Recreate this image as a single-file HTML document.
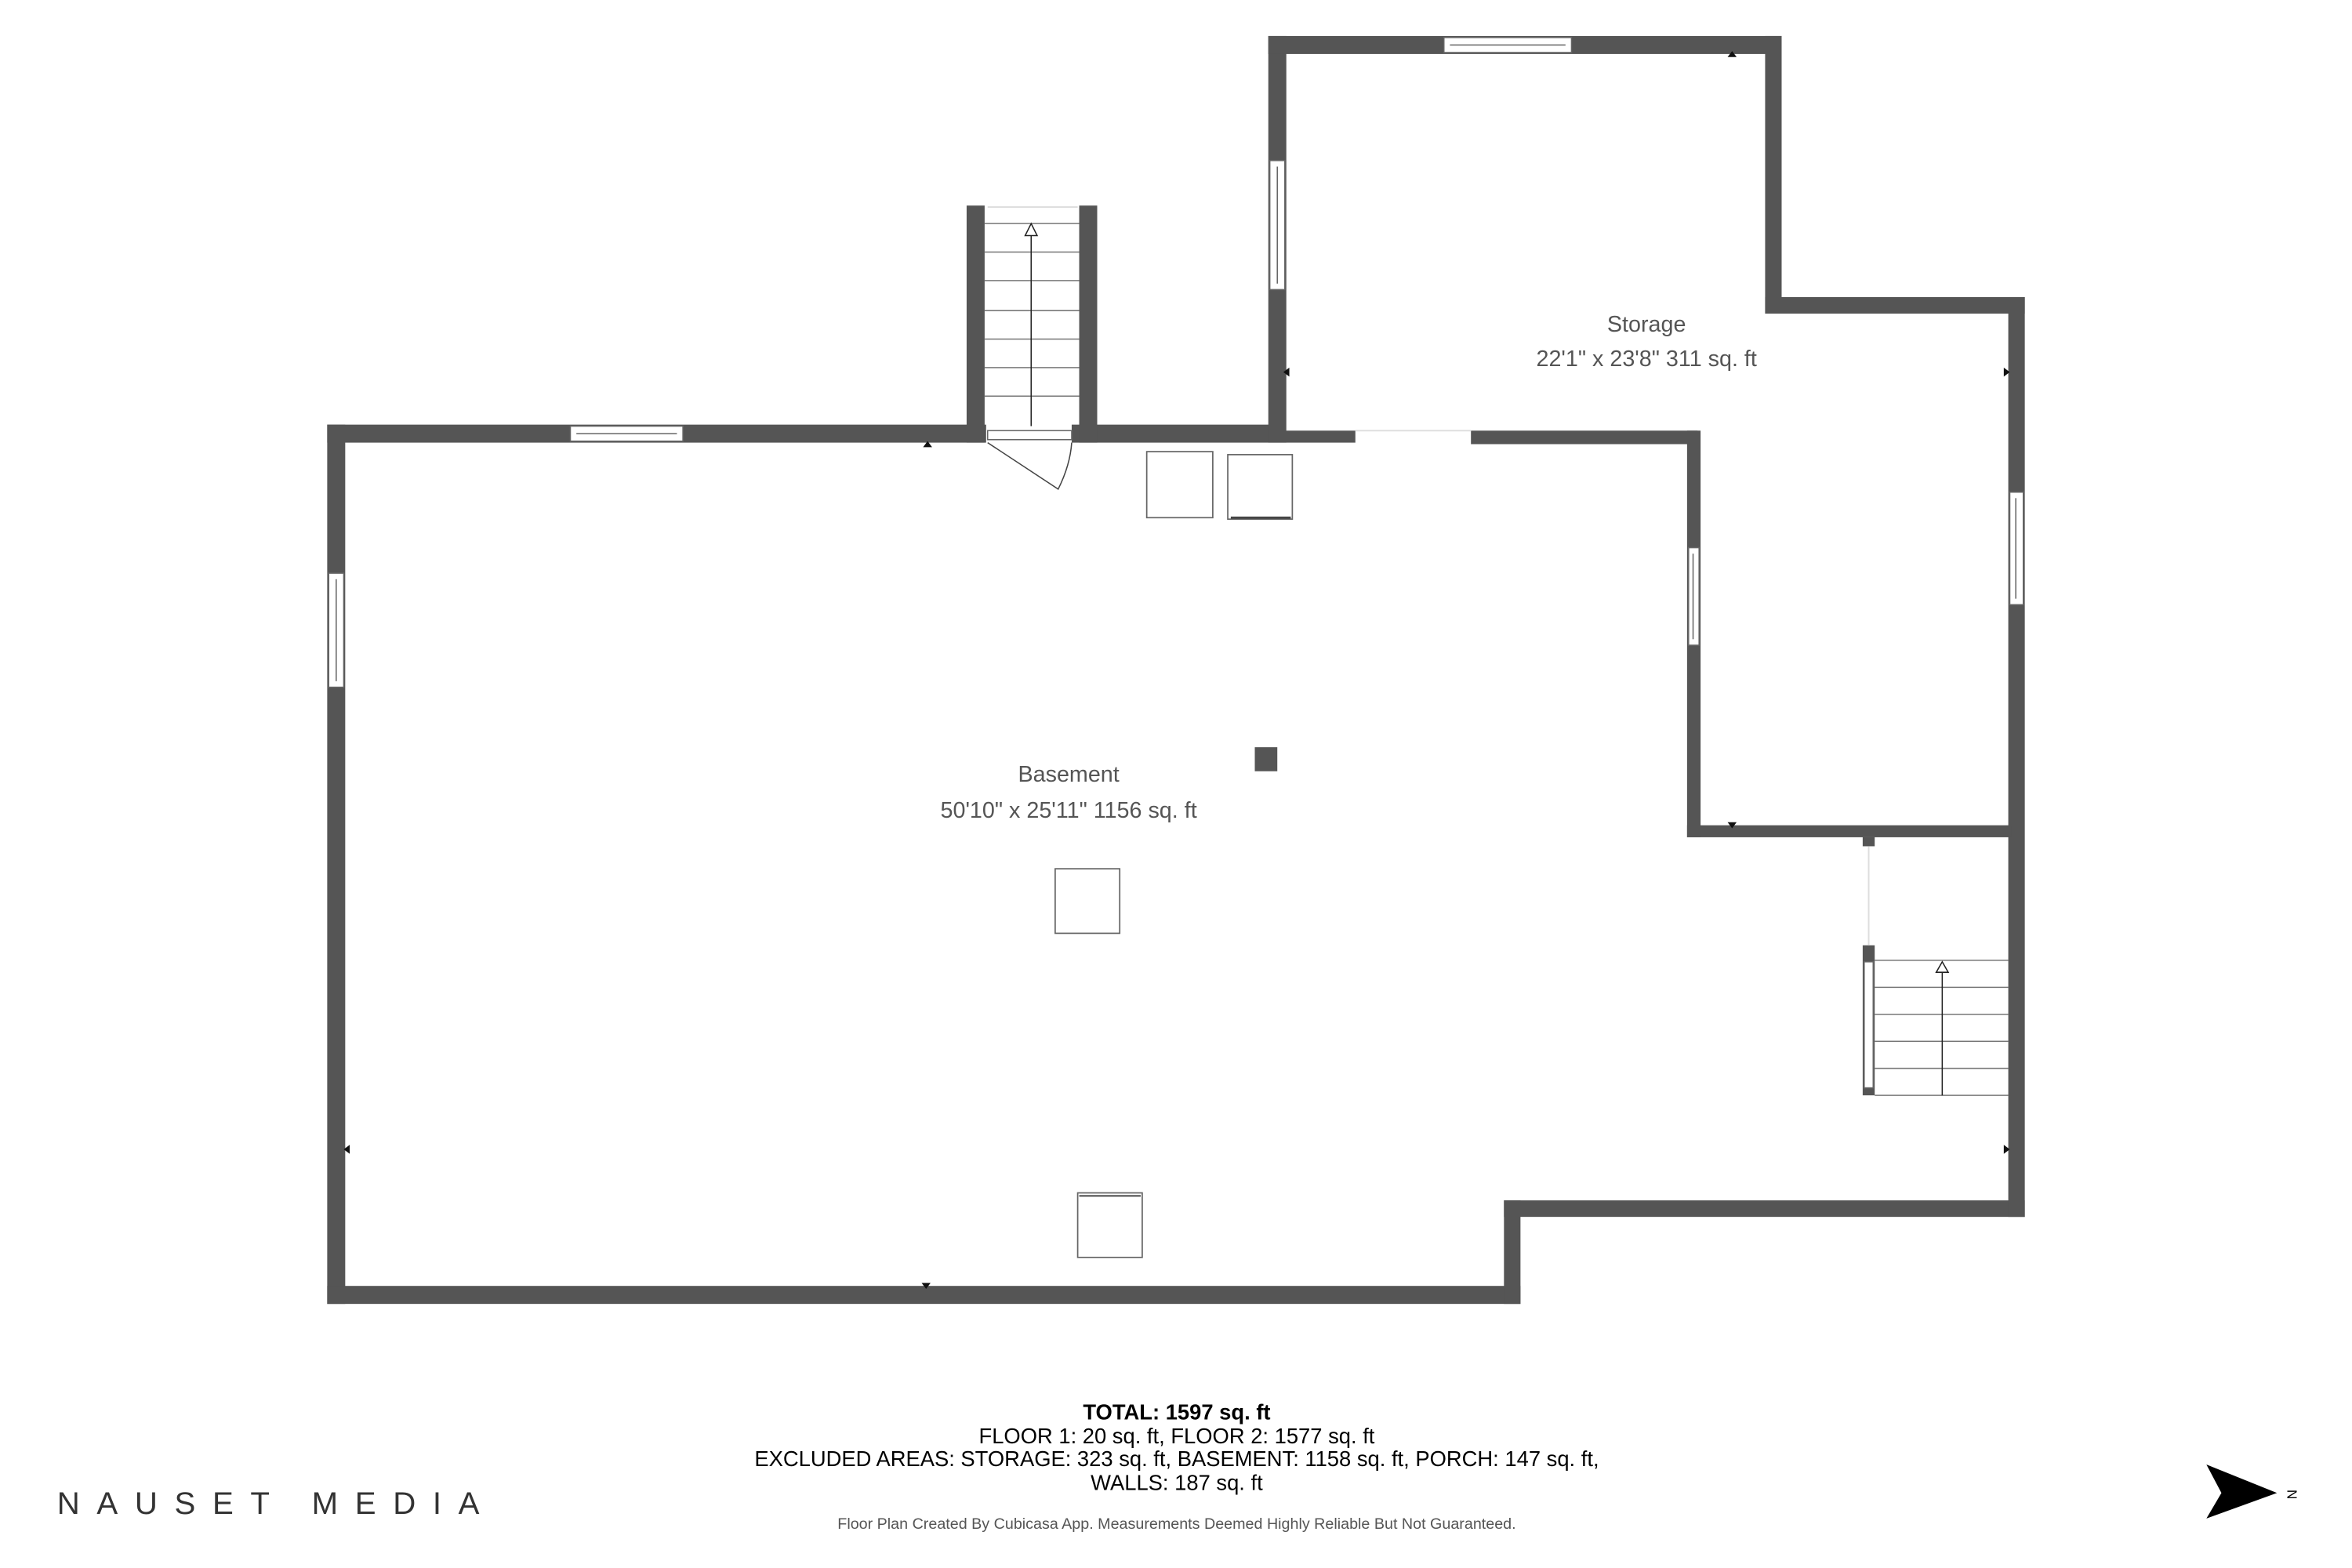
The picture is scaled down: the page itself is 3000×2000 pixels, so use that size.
<!DOCTYPE html>
<html><head><style>
html,body{margin:0;padding:0;background:#fff;}
svg{display:block;}
text{font-family:"Liberation Sans",sans-serif;}
</style></head><body>
<svg width="3000" height="2000" viewBox="0 0 1567 1045" preserveAspectRatio="none" xmlns="http://www.w3.org/2000/svg">
<g fill="#555555">
<rect x="218" y="283" width="12" height="586"/>
<rect x="218" y="857" width="795" height="12"/>
<rect x="1002" y="800" width="11" height="69"/>
<rect x="1002" y="800" width="347" height="11"/>
<rect x="1338" y="198" width="11" height="613"/>
<rect x="218" y="283" width="439" height="12"/>
<rect x="714" y="283" width="141" height="12"/>
<rect x="644" y="137" width="12" height="158"/>
<rect x="719" y="137" width="12" height="158"/>
<rect x="845" y="24" width="12" height="271"/>
<rect x="845" y="24" width="342" height="12"/>
<rect x="1176" y="24" width="11" height="185"/>
<rect x="1176" y="198" width="173" height="11"/>
<rect x="855" y="287" width="48" height="8"/>
<rect x="980" y="287" width="151" height="9"/>
<rect x="1124" y="287" width="9" height="271"/>
<rect x="1124" y="550" width="216" height="8"/>
<rect x="1241" y="558" width="8" height="6"/>
<rect x="1241" y="630" width="8" height="100"/>
<rect x="836" y="498" width="15" height="16"/>
</g>
<g fill="#fff" stroke="#666" stroke-width="0.8">
<rect x="380" y="284" width="75" height="10"/><line x1="384" y1="289" x2="451" y2="289"/>
<rect x="219" y="382" width="10" height="76"/><line x1="224" y1="386" x2="224" y2="454"/>
<rect x="962" y="25" width="85" height="10"/><line x1="966" y1="30" x2="1043" y2="30"/>
<rect x="846" y="107" width="10" height="86"/><line x1="851" y1="111" x2="851" y2="189"/>
<rect x="1125" y="365" width="7" height="65"/><line x1="1128" y1="369" x2="1128" y2="426"/>
<rect x="1339" y="328" width="9" height="75"/><line x1="1343" y1="332" x2="1343" y2="399"/>
<rect x="1242" y="641" width="6" height="84"/>
<rect x="658" y="287" width="56" height="6"/>
</g>
<line x1="1245" y1="564" x2="1245" y2="630" stroke="#ddd" stroke-width="1"/>
<line x1="658" y1="138" x2="718" y2="138" stroke="#ddd" stroke-width="1"/>
<line x1="903" y1="287" x2="980" y2="287" stroke="#ddd" stroke-width="1"/>
<g stroke="#777" stroke-width="0.8" fill="none">
<line x1="656" y1="149" x2="719" y2="149"/>
<line x1="656" y1="168" x2="719" y2="168"/>
<line x1="656" y1="187" x2="719" y2="187"/>
<line x1="656" y1="207" x2="719" y2="207"/>
<line x1="656" y1="226" x2="719" y2="226"/>
<line x1="656" y1="245" x2="719" y2="245"/>
<line x1="656" y1="264" x2="719" y2="264"/>
<line x1="1249" y1="640" x2="1338" y2="640"/>
<line x1="1249" y1="658" x2="1338" y2="658"/>
<line x1="1249" y1="676" x2="1338" y2="676"/>
<line x1="1249" y1="694" x2="1338" y2="694"/>
<line x1="1249" y1="712" x2="1338" y2="712"/>
<line x1="1249" y1="730" x2="1338" y2="730"/>
</g>
<g stroke="#222" stroke-width="0.8" fill="#fff">
<line x1="687" y1="150" x2="687" y2="284"/>
<path d="M683,157 L687,149 L691,157 Z"/>
<line x1="1294" y1="641" x2="1294" y2="730"/>
<path d="M1290,648 L1294,641 L1298,648 Z"/>
</g>
<path d="M658,295 L705,326 Q713,310 714,295" fill="none" stroke="#444" stroke-width="0.8"/>
<g fill="#fff" stroke="#666" stroke-width="0.9">
<rect x="764" y="301" width="44" height="44"/>
<rect x="818" y="303" width="43" height="43"/>
<rect x="703" y="579" width="43" height="43"/>
<rect x="718" y="795" width="43" height="43"/>
</g>
<line x1="820" y1="345" x2="860" y2="345" stroke="#444" stroke-width="1.5"/>
<line x1="719" y1="797" x2="760" y2="797" stroke="#444" stroke-width="1"/>
<g fill="#111">
<path d="M615,298 L618,294 L621,298Z"/>
<path d="M1151,38 L1154,34 L1157,38Z"/>
<path d="M859,245 L855,248 L859,251Z"/>
<path d="M1335,245 L1339,248 L1335,251Z"/>
<path d="M1151,548 L1154,552 L1157,548Z"/>
<path d="M233,763 L229,766 L233,769Z"/>
<path d="M1335,763 L1339,766 L1335,769Z"/>
<path d="M614,855 L617,859 L620,855Z"/>
</g>
<g fill="#555" text-anchor="middle" font-size="15">
<text x="1097" y="221">Storage</text>
<text x="1097" y="244">22'1" x 23'8" 311 sq. ft</text>
<text x="712" y="521">Basement</text>
<text x="712" y="545">50'10" x 25'11" 1156 sq. ft</text>
</g>
<g fill="#000" text-anchor="middle" font-size="14.3">
<text x="784" y="946" font-weight="bold">TOTAL: 1597 sq. ft</text>
<text x="784" y="962">FLOOR 1: 20 sq. ft, FLOOR 2: 1577 sq. ft</text>
<text x="784" y="977">EXCLUDED AREAS: STORAGE: 323 sq. ft, BASEMENT: 1158 sq. ft, PORCH: 147 sq. ft,</text>
<text x="784" y="993">WALLS: 187 sq. ft</text>
<text x="784" y="1019" font-size="10.3" fill="#555">Floor Plan Created By Cubicasa App. Measurements Deemed Highly Reliable But Not Guaranteed.</text>
</g>
<text x="38" y="1009" font-size="21" letter-spacing="11.3" fill="#333">NAUSET MEDIA</text>
<path d="M1470,976 L1517,995 L1470,1012 L1480,995 Z" fill="#000"/>
<text x="1527" y="999" font-size="9" fill="#000" text-anchor="middle" transform="rotate(90 1527 996)">N</text>
</svg>
</body></html>
